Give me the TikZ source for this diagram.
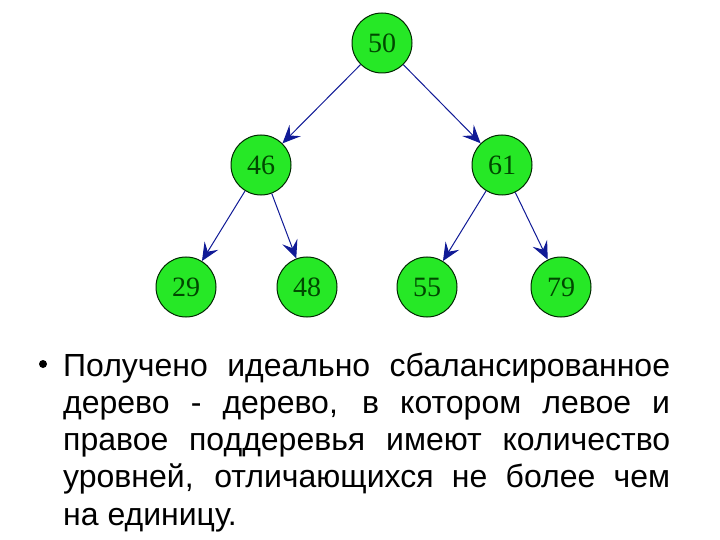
\documentclass[tikz,border=0pt]{standalone}
\usepackage{fontspec}
\setmainfont{Liberation Sans}
\newfontfamily\numfont{Liberation Serif}
\usepackage{xcolor}
\usetikzlibrary{arrows.meta}
\definecolor{nodegreen}{RGB}{38,232,38}
\definecolor{numgreen}{RGB}{0,72,0}
\definecolor{linkblue}{RGB}{16,26,150}

\begin{document}
\begin{tikzpicture}[x=1pt, y=-1pt,
      key/.style={circle, draw=black!85!green, line width=1pt, fill=nodegreen,
                  minimum size=60pt, inner sep=0pt, text=numgreen,
                  font=\numfont\fontsize{28}{28}\selectfont},
      link/.style={draw=linkblue, line width=1pt,
                   -{Stealth[length=18pt, width=16pt, inset=7pt]}}]
      \useasboundingbox (0,0) rectangle (720,540);
      \node[key] (n50) at (382,43)  {50};
      \node[key] (n46) at (261,165) {46};
      \node[key] (n61) at (502,165) {61};
      \node[key] (n29) at (186,287) {29};
      \node[key] (n48) at (307,287) {48};
      \node[key] (n55) at (427,287) {55};
      \node[key] (n79) at (561,287) {79};

      \draw[link] (n50) -- (n46);
      \draw[link] (n50) -- (n61);
      \draw[link] (n46) -- (n29);
      \draw[link] (n46) -- (n48);
      \draw[link] (n61) -- (n55);
      \draw[link] (n61) -- (n79);

      \node[circle, fill=black, minimum size=8pt, inner sep=0pt] (dot) at (43,364) {};
      \node[anchor=base west, inner sep=0pt, text width=607pt, align=justify,
            font=\fontsize{32}{37.3}\selectfont] (txt) at (63,376)
        {\hyphenpenalty=10000 \exhyphenpenalty=10000
         Получено идеально сбалансированное\linebreak
         дерево - дерево, в котором левое и\linebreak
         правое поддеревья имеют количество\linebreak
         уровней, отличающихся не более чем\linebreak
         на единицу.};
\end{tikzpicture}
\end{document}
